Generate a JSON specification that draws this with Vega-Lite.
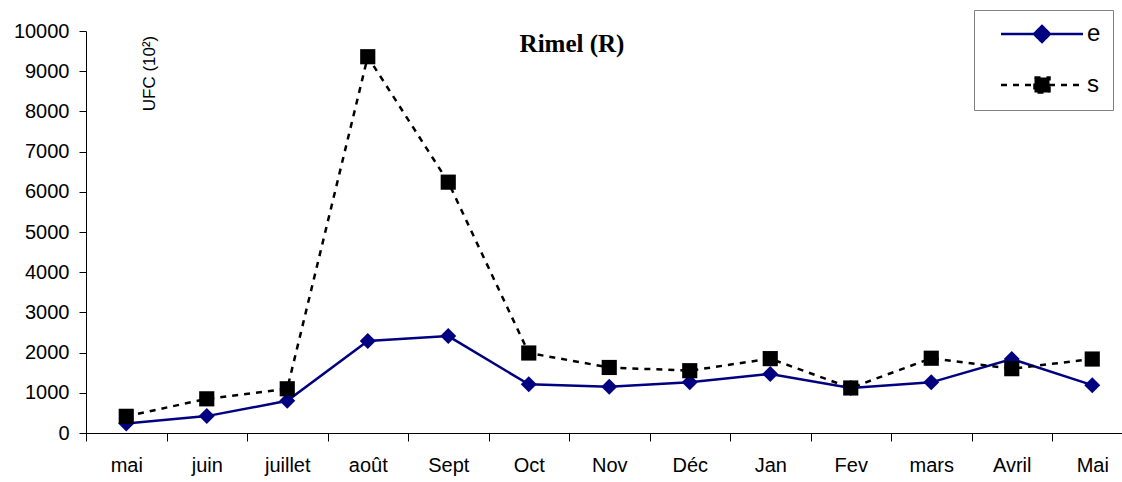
{
  "$schema": "https://vega.github.io/schema/vega-lite/v6.json",
  "autosize": {"type": "none"},
  "padding": {"left": 86, "top": 31, "right": 0, "bottom": 49},
  "width": 1036,
  "height": 402,
  "background": "white",
  "title": {
    "text": "Rimel (R)",
    "font": "Liberation Serif",
    "fontSize": 25,
    "fontWeight": "bold",
    "color": "black",
    "anchor": "middle",
    "frame": "group",
    "baseline": "alphabetic",
    "offset": 0,
    "dx": -32,
    "dy": 67
  },
  "data": {
    "values": [
      {"mois": "mai", "serie": "e", "ufc": 235},
      {"mois": "juin", "serie": "e", "ufc": 420},
      {"mois": "juillet", "serie": "e", "ufc": 800},
      {"mois": "août", "serie": "e", "ufc": 2290},
      {"mois": "Sept", "serie": "e", "ufc": 2410},
      {"mois": "Oct", "serie": "e", "ufc": 1210},
      {"mois": "Nov", "serie": "e", "ufc": 1150},
      {"mois": "Déc", "serie": "e", "ufc": 1260},
      {"mois": "Jan", "serie": "e", "ufc": 1470},
      {"mois": "Fev", "serie": "e", "ufc": 1120},
      {"mois": "mars", "serie": "e", "ufc": 1260},
      {"mois": "Avril", "serie": "e", "ufc": 1840},
      {"mois": "Mai", "serie": "e", "ufc": 1190},
      {"mois": "mai", "serie": "s", "ufc": 415},
      {"mois": "juin", "serie": "s", "ufc": 850},
      {"mois": "juillet", "serie": "s", "ufc": 1100},
      {"mois": "août", "serie": "s", "ufc": 9360},
      {"mois": "Sept", "serie": "s", "ufc": 6240},
      {"mois": "Oct", "serie": "s", "ufc": 1990},
      {"mois": "Nov", "serie": "s", "ufc": 1630},
      {"mois": "Déc", "serie": "s", "ufc": 1550},
      {"mois": "Jan", "serie": "s", "ufc": 1850},
      {"mois": "Fev", "serie": "s", "ufc": 1120},
      {"mois": "mars", "serie": "s", "ufc": 1860},
      {"mois": "Avril", "serie": "s", "ufc": 1600},
      {"mois": "Mai", "serie": "s", "ufc": 1840}
    ]
  },
  "encoding": {
    "x": {
      "field": "mois",
      "type": "ordinal",
      "sort": ["mai", "juin", "juillet", "août", "Sept", "Oct", "Nov", "Déc", "Jan", "Fev", "mars", "Avril", "Mai"],
      "scale": {"type": "band", "paddingInner": 0, "paddingOuter": 0, "range": [0, 1046.5]},
      "axis": {
        "title": null,
        "grid": false,
        "domainColor": "black",
        "domainWidth": 1,
        "tickColor": "black",
        "tickSize": 8,
        "tickBand": "extent",
        "labelAngle": 0,
        "labelFont": "Liberation Sans",
        "labelFontSize": 20,
        "labelColor": "black",
        "labelBaseline": "alphabetic",
        "labelPadding": 30
      }
    },
    "y": {
      "field": "ufc",
      "type": "quantitative",
      "scale": {"domain": [0, 10000], "nice": false, "zero": true},
      "axis": {
        "grid": false,
        "values": [0, 1000, 2000, 3000, 4000, 5000, 6000, 7000, 8000, 9000, 10000],
        "format": "d",
        "domainColor": "black",
        "tickColor": "black",
        "tickSize": 7,
        "labelFont": "Liberation Sans",
        "labelFontSize": 20,
        "labelColor": "black",
        "labelPadding": 10,
        "title": "UFC (10²)",
        "titleFont": "Liberation Sans",
        "titleFontSize": 17,
        "titleFontWeight": "normal",
        "titleColor": "black",
        "titleAngle": -90,
        "titleX": 68,
        "titleY": 42,
        "titleAlign": "center",
        "titleBaseline": "alphabetic"
      }
    }
  },
  "layer": [
    {
      "transform": [{"filter": {"field": "serie", "equal": "e"}}],
      "mark": {"type": "line", "color": "#000080", "strokeWidth": 2.5}
    },
    {
      "transform": [{"filter": {"field": "serie", "equal": "e"}}],
      "mark": {"type": "point", "shape": "diamond", "filled": true, "color": "#000080", "size": 256, "opacity": 1}
    },
    {
      "transform": [{"filter": {"field": "serie", "equal": "s"}}],
      "mark": {"type": "line", "color": "#000000", "strokeWidth": 2.5, "strokeDash": [6, 6]}
    },
    {
      "transform": [{"filter": {"field": "serie", "equal": "s"}}],
      "mark": {"type": "point", "shape": "square", "filled": true, "color": "#000000", "size": 230, "opacity": 1}
    },
    {
      "mark": {"type": "point", "filled": true, "opacity": 0, "size": 400, "strokeWidth": 2.5},
      "encoding": {
        "fill": {
          "field": "serie",
          "type": "nominal",
          "scale": {"domain": ["e", "s"], "range": ["#000080", "#000000"]},
          "legend": {
            "orient": "none", "legendX": 888, "legendY": -21, "direction": "vertical", "title": null,
            "padding": 12, "strokeColor": "#808080", "fillColor": "white", "rowPadding": 25,
            "labelFont": "Liberation Sans", "labelFontSize": 24, "labelColor": "black", "labelOffset": 33,
            "symbolOffset": 44, "symbolSize": 400, "symbolStrokeWidth": 2.5, "symbolOpacity": 1
          }
        },
        "stroke": {
          "field": "serie",
          "type": "nominal",
          "scale": {"domain": ["e", "s"], "range": ["#000080", "#000000"]},
          "legend": {
            "orient": "none", "legendX": 888, "legendY": -21, "direction": "vertical", "title": null,
            "padding": 12, "strokeColor": "#808080", "fillColor": "white", "rowPadding": 25,
            "labelFont": "Liberation Sans", "labelFontSize": 24, "labelColor": "black", "labelOffset": 33,
            "symbolOffset": 44, "symbolSize": 400, "symbolStrokeWidth": 2.5, "symbolOpacity": 1
          }
        },
        "strokeDash": {
          "field": "serie",
          "type": "nominal",
          "scale": {"domain": ["e", "s"], "range": [[1, 0], [6, 6]]},
          "legend": {
            "orient": "none", "legendX": 888, "legendY": -21, "direction": "vertical", "title": null,
            "padding": 12, "strokeColor": "#808080", "fillColor": "white", "rowPadding": 25,
            "labelFont": "Liberation Sans", "labelFontSize": 24, "labelColor": "black", "labelOffset": 33,
            "symbolOffset": 44, "symbolSize": 400, "symbolStrokeWidth": 2.5, "symbolOpacity": 1
          }
        },
        "shape": {
          "field": "serie",
          "type": "nominal",
          "scale": {"domain": ["e", "s"], "range": ["M-4.1,0L4.1,0M0,-0.8L0.8,0L0,0.8L-0.8,0Z", "M-4.1,0L4.1,0M-0.75,-0.75L0.75,-0.75L0.75,0.75L-0.75,0.75Z"]},
          "legend": {
            "orient": "none", "legendX": 888, "legendY": -21, "direction": "vertical", "title": null,
            "padding": 12, "strokeColor": "#808080", "fillColor": "white", "rowPadding": 25,
            "labelFont": "Liberation Sans", "labelFontSize": 24, "labelColor": "black", "labelOffset": 33,
            "symbolOffset": 44, "symbolSize": 400, "symbolStrokeWidth": 2.5, "symbolOpacity": 1
          }
        }
      }
    }
  ],
  "config": {
    "view": {"stroke": null},
    "font": "Liberation Sans"
  }
}
